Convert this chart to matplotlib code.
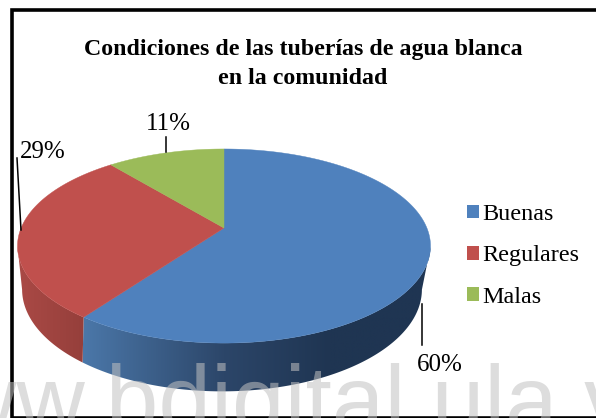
import numpy as np
import matplotlib
matplotlib.use("Agg")
import matplotlib.pyplot as plt
from matplotlib.colors import LinearSegmentedColormap
from matplotlib.patches import Polygon, Patch

title_lines = ["Condiciones de las tuberías de agua blanca", "en la comunidad"]
categories = ["Buenas", "Regulares", "Malas"]
values = [60, 29, 11]
labels = ["60%", "29%", "11%"]
colors = ["#4f81bd", "#c0504d", "#9bbb59"]
side_stops = [
    [(78, "#4c79ab"), (224, "#2c4669"), (330, "#1f3552"), (432, "#1f3552")],
    [(15, "#ab4a46"), (92, "#933e3a")],
    [(100, "#7d9648"), (224, "#7d9648")],
]

plt.rcParams["font.family"] = ["Liberation Serif", "DejaVu Serif"]
fig = plt.figure(figsize=(5.96, 4.18), dpi=100)
ax = fig.add_axes([0, 0, 1, 1])
ax.set_xlim(0, 596)
ax.set_ylim(418, 0)
ax.axis("off")


def project(theta, cx, cy, a, b, k):
    u, v = np.sin(theta), np.cos(theta)
    w = 1 + k * v
    return cx + a * u / w, cy - b * v / w


top = dict(cx=224, cy=228, a=202.9, b=93.7, k=0.1857)
low = dict(cx=222, cy=267, a=195, b=97, k=0.22)

# wedges run clockwise from twelve o'clock, first slice first
edges = 2 * np.pi * np.cumsum([0] + values) / sum(values)

# side walls: each arc stops at its surface's own silhouette point
for i in range(len(values)):
    t = np.linspace(edges[i], edges[i + 1], 400)
    ta = t[np.cos(t) < -top["k"]]
    tb = t[np.cos(t) < -low["k"]]
    if len(ta) < 2 or len(tb) < 2:
        continue
    xa, ya = project(ta, **top)
    xb, yb = project(tb, **low)
    xs = np.r_[xa, xb[::-1]]
    ys = np.r_[ya, yb[::-1]]
    poly = Polygon(np.c_[xs, ys], closed=True, fc="none", ec="none")
    ax.add_patch(poly)
    stops = side_stops[i]
    x0, x1 = stops[0][0], stops[-1][0]
    cmap = LinearSegmentedColormap.from_list(
        "s", [((p - x0) / (x1 - x0), c) for p, c in stops])
    im = ax.imshow(np.linspace(0, 1, 256)[None, :], cmap=cmap, aspect="auto",
                   extent=(x0, x1, ys.max() + 1, ys.min() - 1), zorder=1)
    im.set_clip_path(poly)
ax.set_xlim(0, 596)
ax.set_ylim(418, 0)

# top faces
for i in range(len(values)):
    t = np.linspace(edges[i], edges[i + 1], 300)
    x, y = project(t, **top)
    ax.fill(np.r_[top["cx"], x], np.r_[top["cy"], y], fc=colors[i], ec=colors[i],
            lw=0.3, zorder=2, label=categories[i])

# frame
ax.plot([700, 11.5, 11.5, 700], [9.5, 9.5, 417.5, 417.5], color="black", lw=2.6,
        solid_joinstyle="miter", zorder=3, clip_on=False)

# leaders and labels
ax.plot([422, 422], [304, 345], color="black", lw=1.1, zorder=3)
ax.plot([17, 21], [158, 230], color="black", lw=1.1, zorder=3)
ax.plot([166, 166], [137, 152], color="black", lw=1.1, zorder=3)
ax.text(440, 365, labels[0], ha="center", va="center", fontsize=18, zorder=4)
ax.text(43, 151.5, labels[1], ha="center", va="center", fontsize=18, zorder=4)
ax.text(168, 124.5, labels[2], ha="center", va="center", fontsize=18, zorder=4)

ax.text(303, 50, title_lines[0], ha="center", va="center", fontsize=17.2,
        fontweight="bold", zorder=4)
ax.text(303, 79, title_lines[1], ha="center", va="center", fontsize=17.2,
        fontweight="bold", zorder=4)

handles = [Patch(fc=c, ec="none") for c in colors]
leg = ax.legend(handles, categories, loc="upper left",
                bbox_to_anchor=(467 / 596, 1 - 204 / 418), frameon=False, fontsize=17.4,
                borderpad=0, borderaxespad=0, handlelength=0.5, handleheight=0.5,
                handletextpad=0.15, labelspacing=0.84)
leg.set_zorder(4)

# watermark
ax.text(-120, 432, "www.bdigital.ula.ve", family="Liberation Sans", fontsize=68,
        color="#c1c1c1", alpha=0.55, ha="left", va="baseline", zorder=10, clip_on=True)

fig.savefig("out.png", dpi=100)
